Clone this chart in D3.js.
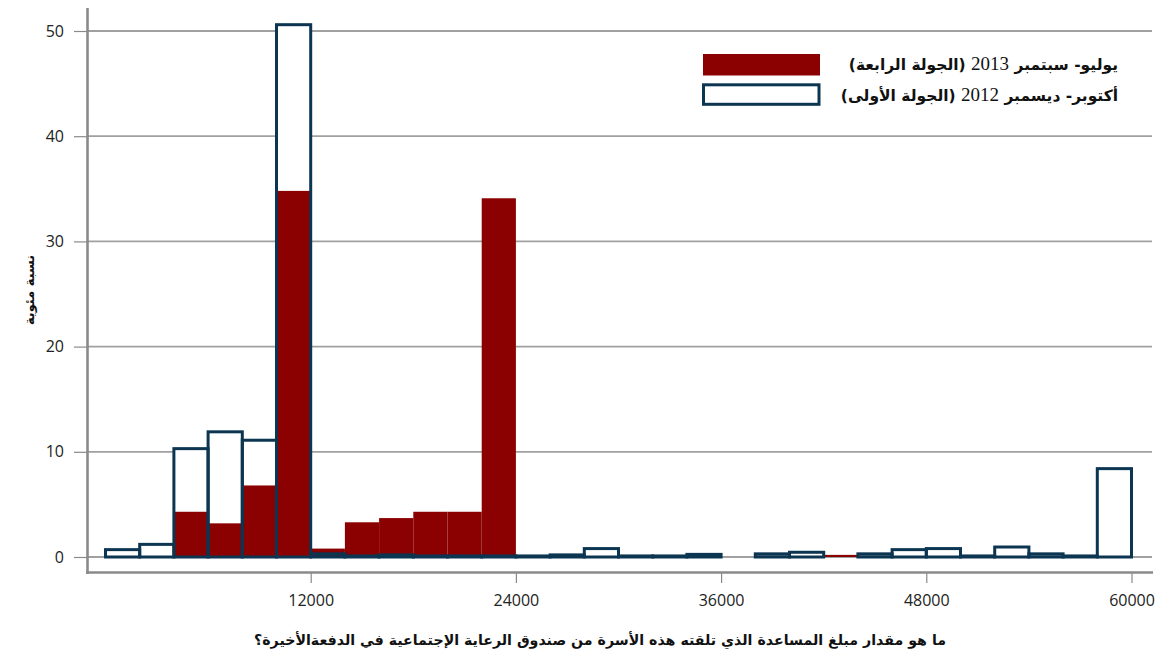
<!DOCTYPE html>
<html><head><meta charset="utf-8">
<script src="https://cdn.jsdelivr.net/npm/d3@7"></script>
<style>body{margin:0;background:#fff;} svg{display:block;}</style>
</head><body>
<svg id="c" width="1163" height="662"></svg>
<script>
const binStarts = [0,2000,4000,6000,8000,10000,12000,14000,16000,18000,20000,22000,24000,26000,28000,30000,32000,34000,36000,38000,40000,42000,44000,46000,48000,50000,52000,54000,56000,58000];
const binWidth = 2000;
const round1 = [0.7,1.2,10.3,11.9,11.1,50.6,0.3,0.1,0.2,0.1,0.1,0.1,0.1,0.2,0.8,0.1,0.1,0.25,0,0.3,0.45,0,0.3,0.7,0.8,0.1,0.95,0.3,0.1,8.4];
const round4 = [0,0,4.3,3.2,6.8,34.8,0.8,3.3,3.7,4.3,4.3,34.1,0,0,0,0,0,0,0,0,0,0.2,0,0,0,0,0,0,0,0];
const xTicks = [12000,24000,36000,48000,60000];
const yTicks = [0,10,20,30,40,50];
const legendLabels = [
  {pre:"يوليو- سبتمبر ", year:"2013", post:" (الجولة الرابعة)"},
  {pre:"أكتوبر- ديسمبر ", year:"2012", post:" (الجولة الأولى)"}
];
const yTitle = "نسبة مئوية";
const xTitle = "ما هو مقدار مبلغ المساعدة الذي تلقته هذه الأسرة من صندوق الرعاية الإجتماعية في الدفعةالأخيرة؟";

const RED = "#8b0000", NAVY = "#0c3552", GRID = "#a0a0a0", AXIS = "#8a8a8a";
const svg = d3.select("#c");
const x = d3.scaleLinear().domain([0,60000]).range([105.5,1131.5]);
const y = d3.scaleLinear().domain([0,50]).range([557,31]);

// gridlines
svg.append("g").selectAll("line").data(yTicks).join("line")
  .attr("x1",88).attr("x2",1152).attr("y1",d=>y(d)).attr("y2",d=>y(d))
  .attr("stroke",GRID).attr("stroke-width",1.8);

// y axis
const yAxis = d3.axisLeft(y).tickValues(yTicks).tickSize(14).tickPadding(10).tickFormat(d3.format("d"));
const gy = svg.append("g").attr("transform","translate(88,0)").call(yAxis);
gy.select(".domain").remove();
gy.selectAll(".tick line").attr("stroke",AXIS).attr("stroke-width",1.2);
gy.selectAll(".tick text").attr("font-family","'Open Sans', sans-serif").attr("font-size",16).attr("fill","#222");
svg.append("line").attr("x1",87.5).attr("x2",87.5).attr("y1",8).attr("y2",574).attr("stroke",AXIS).attr("stroke-width",2.6);

// x axis
const xAxis = d3.axisBottom(x).tickValues(xTicks).tickSize(10).tickPadding(12).tickFormat(d3.format("d"));
const gx = svg.append("g").attr("transform","translate(0,573)").call(xAxis);
gx.select(".domain").remove();
gx.selectAll(".tick line").attr("stroke",AXIS).attr("stroke-width",1.2);
gx.selectAll(".tick text").attr("font-family","'Open Sans', sans-serif").attr("font-size",16).attr("fill","#222");
svg.append("line").attr("x1",86).attr("x2",1153).attr("y1",572.5).attr("y2",572.5).attr("stroke",AXIS).attr("stroke-width",2.6);

const r1 = binStarts.map((b,i)=>({b, v:round1[i]})).filter(d=>d.v>0);
const r4 = binStarts.map((b,i)=>({b, v:round4[i]})).filter(d=>d.v>0);

// round1 white fills
svg.append("g").selectAll("rect").data(r1).join("rect")
  .attr("x",d=>x(d.b)).attr("width",d=>x(d.b+binWidth)-x(d.b))
  .attr("y",d=>y(d.v)).attr("height",d=>y(0)-y(d.v)).attr("fill","#fff");
// round4 red
svg.append("g").selectAll("rect").data(r4).join("rect")
  .attr("x",d=>x(d.b)).attr("width",d=>x(d.b+binWidth)-x(d.b))
  .attr("y",d=>y(d.v)).attr("height",d=>y(0)-y(d.v)).attr("fill",RED);
// round1 outlines
svg.append("g").selectAll("rect").data(r1).join("rect")
  .attr("x",d=>x(d.b)).attr("width",d=>x(d.b+binWidth)-x(d.b))
  .attr("y",d=>y(d.v)).attr("height",d=>y(0)-y(d.v))
  .attr("fill","none").attr("stroke",NAVY).attr("stroke-width",3);

// legend
svg.append("rect").attr("x",703).attr("y",54).attr("width",117).attr("height",21.5).attr("fill",RED);
svg.append("rect").attr("x",703.5).attr("y",84.8).attr("width",115.5).attr("height",19.5).attr("fill","#fff").attr("stroke",NAVY).attr("stroke-width",3);
legendLabels.forEach((l,i)=>{
  const t = svg.append("text").attr("x",1118).attr("y",[70,101][i])
    .attr("direction","rtl").attr("text-anchor","start")
    .attr("font-family","'DejaVu Sans', sans-serif").attr("font-weight","bold").attr("font-size",15.5).attr("fill","#111");
  t.append("tspan").text(l.pre);
  t.append("tspan").attr("font-family","'Liberation Serif', serif").attr("font-weight","normal").attr("font-size",19).text(l.year);
  t.append("tspan").text(l.post);
});

// axis titles
svg.append("text").attr("transform","translate(34,290) rotate(-90)").attr("text-anchor","middle")
  .attr("font-family","'DejaVu Sans', sans-serif").attr("font-weight","bold").attr("font-size",13).attr("fill","#111").text(yTitle);
svg.append("text").attr("x",600).attr("y",645).attr("text-anchor","middle").attr("direction","rtl")
  .attr("font-family","'DejaVu Sans', sans-serif").attr("font-weight","bold").attr("font-size",14.2).attr("fill","#111").text(xTitle);
</script>
</body></html>
